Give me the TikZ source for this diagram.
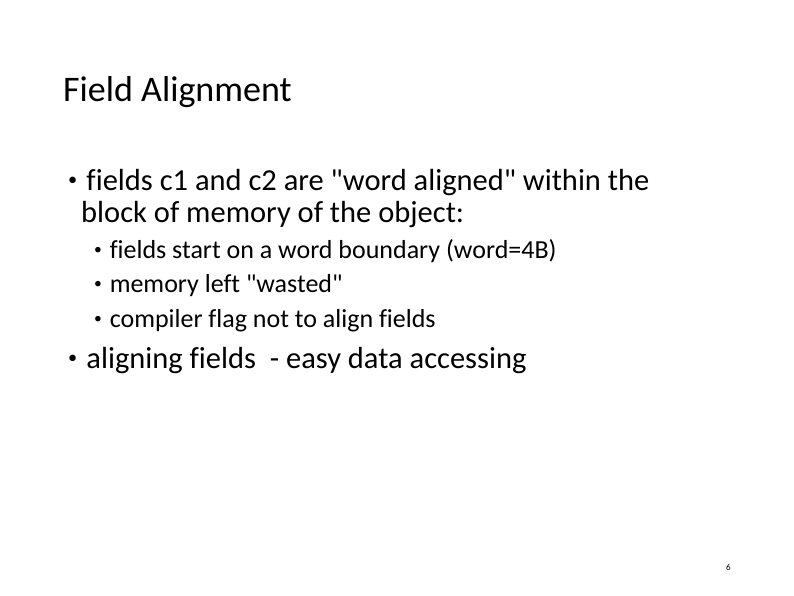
\documentclass[tikz,border=0pt]{standalone}
\usepackage{fontspec}
\defaultfontfeatures[\rmfamily]{}
\setmainfont{Carlito}[Ligatures=NoCommon]
\newcommand{\bul}{\raisebox{0.15em}{\scalebox{0.6}{\textbullet}}\hspace{0.3em}}
\begin{document}
\begin{tikzpicture}[x=1pt,y=-1pt,
  txt/.style={anchor=base west,inner sep=0pt},
  big/.style={txt,font=\fontsize{30.5}{36}\selectfont},
  small/.style={txt,font=\fontsize{26}{30}\selectfont}]
\useasboundingbox[fill=white] (0,0) rectangle (794,595);
\node[txt,font=\fontsize{36}{40}\selectfont] (title) at (63,101) {Field Alignment};
\node[big] (b1) at (68,190) {\bul fields c1 and c2 are "word aligned" within the};
\node[big] (b1b) at (81,222) {block of memory of the object:};
\node[small] (s1) at (94,258) {\bul fields start on a word boundary (word=4B)};
\node[small] (s2) at (94,292) {\bul memory left "wasted"};
\node[small] (s3) at (94,327) {\bul compiler flag not to align fields};
\node[big] (b2) at (68,368) {\bul aligning fields \ - easy data accessing};
\node[txt,font=\fontsize{9}{10}\selectfont] (pg) at (726,570) {6};
\end{tikzpicture}
\end{document}
